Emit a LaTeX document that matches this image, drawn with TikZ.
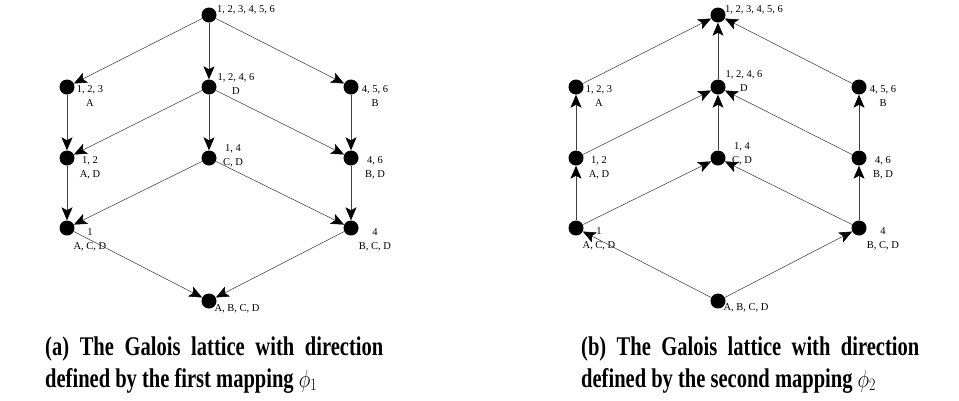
\documentclass[tikz,border=0pt]{standalone}
\usepackage{fontspec}
\usepackage{graphicx}
\setmainfont{Liberation Serif}
\newfontfamily\capfont[FakeStretch=0.76]{Liberation Serif}
\usetikzlibrary{arrows.meta}
\newcommand\condphi[1]{\scalebox{0.8}[1]{$\phi_{#1}$}}
\tikzset{
  dot/.style={circle,fill=black,draw=none,inner sep=0pt,minimum size=15pt},
  lbl/.style={anchor=north,inner sep=0pt,align=center,font=\fontsize{10.5}{14}\selectfont},
  lblw/.style={lbl,anchor=north west},
  edge/.style={draw=black!75,line width=0.55pt,-{Stealth[length=13pt,width=11pt,inset=3pt,color=black]}},
  capt/.style={anchor=base west,inner sep=0pt,text width=338pt,align=justify,font=\capfont\bfseries\fontsize{27}{32}\selectfont}
}
\begin{document}
\begin{tikzpicture}[x=1pt,y=-1pt]
\useasboundingbox (0,0) rectangle (959,400);
% ---------- left lattice ----------
\node[dot] (aT) at (209,15) {};
\node[dot] (aA) at (67,87) {};
\node[dot] (aD) at (209,87) {};
\node[dot] (aB) at (351,87) {};
\node[dot] (aAD) at (67,158) {};
\node[dot] (aCD) at (209,158) {};
\node[dot] (aBD) at (351,158) {};
\node[dot] (aACD) at (67,228) {};
\node[dot] (aBCD) at (351,228) {};
\node[dot] (aBot) at (209,301) {};
\node[lblw] (laT) at (217,5.5) {1, 2, 3, 4, 5, 6};
\node[lbl] (laA) at (90,85.4) {1, 2, 3\\A};
\node[lbl] (laD) at (236,73.4) {1, 2, 4, 6\\D};
\node[lbl] (laB) at (375,85.4) {4, 5, 6\\B};
\node[lbl] (laAD) at (90,156.4) {1, 2\\A, D};
\node[lbl] (laCD) at (233,144.4) {1, 4\\C, D};
\node[lbl] (laBD) at (375,156.4) {4, 6\\B, D};
\node[lbl] (laACD) at (90,228.4) {1\\A, C, D};
\node[lbl] (laBCD) at (375,228.4) {4\\B, C, D};
\node[lbl] (laBot) at (237,304.5) {A, B, C, D};
\draw[edge] (aT) -- (aA);
\draw[edge] (aT) -- (aD);
\draw[edge] (aT) -- (aB);
\draw[edge] (aA) -- (aAD);
\draw[edge] (aD) -- (aAD);
\draw[edge] (aD) -- (aCD);
\draw[edge] (aD) -- (aBD);
\draw[edge] (aB) -- (aBD);
\draw[edge] (aAD) -- (aACD);
\draw[edge] (aCD) -- (aACD);
\draw[edge] (aCD) -- (aBCD);
\draw[edge] (aBD) -- (aBCD);
\draw[edge] (aACD) -- (aBot);
\draw[edge] (aBCD) -- (aBot);
% ---------- right lattice ----------
\node[dot] (bT) at (718,15) {};
\node[dot] (bA) at (576,87) {};
\node[dot] (bD) at (718,87) {};
\node[dot] (bB) at (859,87) {};
\node[dot] (bAD) at (576,158) {};
\node[dot] (bCD) at (718,158) {};
\node[dot] (bBD) at (859,158) {};
\node[dot] (bACD) at (576,228) {};
\node[dot] (bBCD) at (859,228) {};
\node[dot] (bBot) at (718,301) {};
\node[lblw] (lbT) at (725,5.5) {1, 2, 3, 4, 5, 6};
\node[lbl] (lbA) at (599,85.4) {1, 2, 3\\A};
\node[lbl] (lbD) at (744,70.5) {1, 2, 4, 6\\D};
\node[lbl] (lbB) at (883,85.4) {4, 5, 6\\B};
\node[lbl] (lbAD) at (599,156.4) {1, 2\\A, D};
\node[lbl] (lbCD) at (742,142.5) {1, 4\\C, D};
\node[lbl] (lbBD) at (883,156.4) {4, 6\\B, D};
\node[lbl] (lbACD) at (599,227.5) {1\\A, C, D};
\node[lbl] (lbBCD) at (883,227.5) {4\\B, C, D};
\node[lbl] (lbBot) at (746,303.6) {A, B, C, D};
\draw[edge] (bA) -- (bT);
\draw[edge] (bD) -- (bT);
\draw[edge] (bB) -- (bT);
\draw[edge] (bAD) -- (bA);
\draw[edge] (bAD) -- (bD);
\draw[edge] (bCD) -- (bD);
\draw[edge] (bBD) -- (bD);
\draw[edge] (bBD) -- (bB);
\draw[edge] (bACD) -- (bAD);
\draw[edge] (bACD) -- (bCD);
\draw[edge] (bBCD) -- (bCD);
\draw[edge] (bBCD) -- (bBD);
\draw[edge] (bBot) -- (bACD);
\draw[edge] (bBot) -- (bBCD);
% ---------- captions ----------
\node[capt] (capa) at (45,355) {(a) The Galois lattice with direction\linebreak defined by the first mapping \condphi{1}};
\node[capt] (capb) at (581,355) {(b) The Galois lattice with direction\linebreak defined by the second mapping \condphi{2}};
\end{tikzpicture}
\end{document}
